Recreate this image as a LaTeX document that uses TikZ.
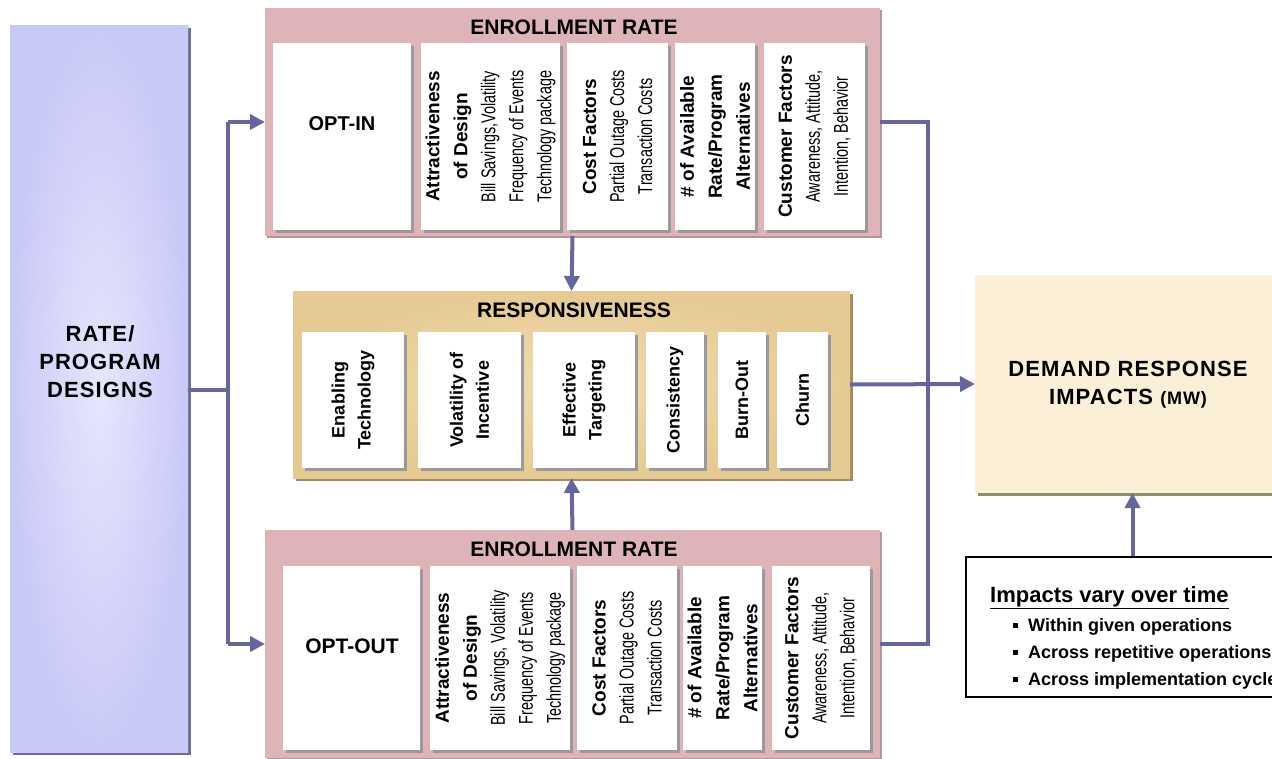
\documentclass[tikz,border=0pt]{standalone}
\usepackage{fontspec}
\setmainfont{Liberation Sans}
\newfontfamily\narrowf[FakeStretch=0.72]{Liberation Sans}
\usetikzlibrary{arrows.meta,shadows,calc}
\definecolor{linec}{HTML}{66669C}
\definecolor{pinkc}{HTML}{DEB4B9}
\definecolor{pinkdk}{HTML}{B8949A}
\definecolor{tanc}{HTML}{E6CA94}
\definecolor{tanin}{HTML}{F0DCB0}
\definecolor{tandk}{HTML}{A88A62}
\definecolor{lavout}{HTML}{C9C9F8}
\definecolor{lavin}{HTML}{E6E6FC}
\definecolor{lavdk}{HTML}{6E6E9C}
\definecolor{creamc}{HTML}{FBEFD7}
\definecolor{creamdk}{HTML}{8E8E6C}
\definecolor{shgray}{HTML}{9A9A9A}
\tikzset{
  conn/.style={draw=linec, line width=4pt},
  arr/.style={-{Triangle[length=15pt,width=15pt]}},
  plain/.style={inner sep=0pt, outer sep=0pt, draw=none},
  whitebox/.style={plain, fill=white, drop shadow={shadow xshift=3pt, shadow yshift=-3pt, fill=shgray, opacity=1}},
  pinkframe/.style={plain, fill=pinkc, drop shadow={shadow xshift=2pt, shadow yshift=-2pt, fill=pinkdk, opacity=1}},
  vt/.style={rotate=90, align=center, inner sep=0pt, font=\fontsize{19}{28}\selectfont},
  nt/.style={font=\narrowf\fontsize{20}{28}\selectfont},
  rt/.style={rotate=90, align=center, inner sep=0pt, font=\bfseries\fontsize{18}{26}\selectfont},
  ttl/.style={inner sep=0pt, font=\bfseries\fontsize{21}{24}\selectfont},
  big/.style={inner sep=0pt, align=center, font=\bfseries\fontsize{22}{28}\selectfont\addfontfeature{LetterSpace=5}},
  bul/.style={anchor=base west, inner sep=0pt, font=\bfseries\fontsize{18}{22}\selectfont}
}
\newcommand{\nl}[1]{{\narrowf\fontsize{20}{28}\selectfont #1}}
\begin{document}
\begin{tikzpicture}[x=1pt,y=-1pt]
\useasboundingbox (0,0) rectangle (1272,758);
\clip (0,0) rectangle (1272,758);
\fill[white] (0,0) rectangle (1272,758);

% left box
\node[plain, minimum width=178pt, minimum height=727pt, inner color=lavin, outer color=lavout,
  drop shadow={shadow xshift=3pt, shadow yshift=-3pt, fill=lavdk, opacity=1}] (rate) at (99,388.5) {};
\node[big] (ratet) at (100,362) {RATE/\\PROGRAM\\DESIGNS};

% top enrollment frame
\node[pinkframe, minimum width=615pt, minimum height=228pt] (topf) at (572.5,122) {};
\node[ttl] (topt) at (574,27) {ENROLLMENT RATE};
\node[whitebox, minimum width=138pt, minimum height=187pt] (optin) at (342,136.5) {};
\node[ttl, font=\bfseries\fontsize{20}{24}\selectfont] (optint) at (342,124) {OPT-IN};
\node[whitebox, minimum width=139pt, minimum height=187pt] (ta) at (490.5,136.5) {};
\node[vt] (tat) at (ta.center) {\textbf{Attractiveness}\\\textbf{of Design}\\\nl{Bill Savings,Volatility}\\\nl{Frequency of Events}\\\nl{Technology package}};
\node[whitebox, minimum width=101pt, minimum height=187pt] (tc) at (617.5,136.5) {};
\node[vt] (tct) at (tc.center) {\textbf{Cost Factors}\\\nl{Partial Outage Costs}\\\nl{Transaction Costs}};
\node[whitebox, minimum width=80pt, minimum height=187pt] (tn) at (715,136.5) {};
\node[vt] (tnt) at (tn.center) {\textbf{\# of Available}\\\textbf{Rate/Program}\\\textbf{Alternatives}};
\node[whitebox, minimum width=101pt, minimum height=187pt] (tu) at (814.5,136.5) {};
\node[vt] (tut) at (tu.center) {\textbf{Customer Factors}\\\nl{Awareness, Attitude,}\\\nl{Intention, Behavior}};

% bottom enrollment frame
\node[pinkframe, minimum width=615pt, minimum height=228pt] (botf) at (572.5,644) {};
\node[ttl] (bott) at (574,549) {ENROLLMENT RATE};
\node[whitebox, minimum width=137pt, minimum height=184pt] (optout) at (351.5,658) {};
\node[ttl] (optoutt) at (352,646) {OPT-OUT};
\node[whitebox, minimum width=140pt, minimum height=184pt] (ba) at (500,658) {};
\node[vt] (bat) at (ba.center) {\textbf{Attractiveness}\\\textbf{of Design}\\\nl{Bill Savings, Volatility}\\\nl{Frequency of Events}\\\nl{Technology package}};
\node[whitebox, minimum width=100pt, minimum height=184pt] (bc) at (627,658) {};
\node[vt] (bct) at (bc.center) {\textbf{Cost Factors}\\\nl{Partial Outage Costs}\\\nl{Transaction Costs}};
\node[whitebox, minimum width=79pt, minimum height=184pt] (bn) at (722.5,658) {};
\node[vt] (bnt) at (bn.center) {\textbf{\# of Available}\\\textbf{Rate/Program}\\\textbf{Alternatives}};
\node[whitebox, minimum width=98pt, minimum height=184pt] (bu) at (821,658) {};
\node[vt] (but) at (bu.center) {\textbf{Customer Factors}\\\nl{Awareness, Attitude,}\\\nl{Intention, Behavior}};

% responsiveness frame
\node[plain, minimum width=557pt, minimum height=187pt, inner color=tanin, outer color=tanc,
  drop shadow={shadow xshift=3pt, shadow yshift=-3pt, fill=tandk, opacity=1}] (resp) at (571.5,384.5) {};
\node[ttl] (respt) at (574,310) {RESPONSIVENESS};
\node[whitebox, minimum width=102pt, minimum height=136pt] (r1) at (353,400) {};
\node[rt] (r1t) at (r1.center) {Enabling\\Technology};
\node[whitebox, minimum width=103pt, minimum height=136pt] (r2) at (469.5,400) {};
\node[rt] (r2t) at (r2.center) {Volatility of\\Incentive};
\node[whitebox, minimum width=102pt, minimum height=136pt] (r3) at (584,400) {};
\node[rt] (r3t) at (r3.center) {Effective\\Targeting};
\node[whitebox, minimum width=58pt, minimum height=136pt] (r4) at (675,400) {};
\node[rt] (r4t) at (r4.center) {Consistency};
\node[whitebox, minimum width=48pt, minimum height=136pt] (r5) at (742,400) {};
\node[rt] (r5t) at (r5.center) {Burn-Out};
\node[whitebox, minimum width=51pt, minimum height=136pt] (r6) at (802.5,400) {};
\node[rt] (r6t) at (r6.center) {Churn};

% demand response impacts
\node[plain, minimum width=315pt, minimum height=218pt, fill=creamc,
  drop shadow={shadow xshift=3pt, shadow yshift=-3pt, fill=creamdk, opacity=1}] (dr) at (1132.5,384) {};
\node[big] (drt) at (1128,385) {DEMAND RESPONSE\\IMPACTS {\fontsize{18}{28}\selectfont(MW)}};

% impacts box
\node[draw=black, line width=1.5pt, fill=white, inner sep=0pt, minimum width=320pt, minimum height=140pt] (imp) at (1126,627) {};
\node[anchor=base west, inner sep=0pt, font=\bfseries\fontsize{22}{24}\selectfont] (impt) at (990,602) {\underline{Impacts vary over time}};
\node[bul] (b1) at (1013,631) {\rule[3pt]{5pt}{5pt}\hspace{10pt}Within given operations};
\node[bul] (b2) at (1013,658) {\rule[3pt]{5pt}{5pt}\hspace{10pt}Across repetitive operations};
\node[bul] (b3) at (1013,685) {\rule[3pt]{5pt}{5pt}\hspace{10pt}Across implementation cycles};

% connectors
\coordinate (jl) at (228,390);
\coordinate (jr) at (928,390);
\draw[conn] (rate.east |- jl) -- (jl);
\draw[conn] (jl |- topf.west) -- (jl |- botf.west);
\draw[conn, arr] (jl |- topf.west) -- (topf.west);
\draw[conn, arr] (jl |- botf.west) -- (botf.west);
\draw[conn] (topf.east) -| (jr) |- (botf.east);
\draw[conn, arr] (resp.east) -- (dr.west -| 975,0);
\draw[conn, arr] (topf.south) -- (resp.north);
\draw[conn, arr] (botf.north) -- (resp.south);
\draw[conn, arr] (dr.south |- imp.north) -- (dr.south);
\end{tikzpicture}
\end{document}
